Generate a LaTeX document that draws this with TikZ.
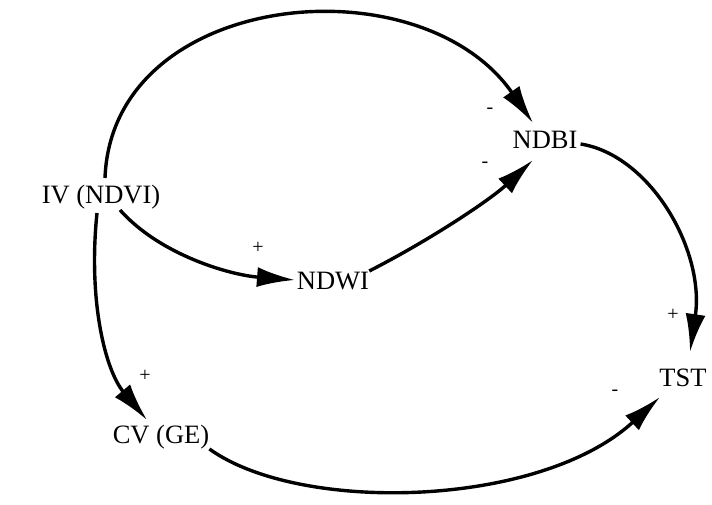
\documentclass[tikz,border=0pt]{standalone}
\usepackage{fontspec}
\setmainfont{Liberation Serif}
\usetikzlibrary{arrows.meta}
\begin{document}
\begin{tikzpicture}[x=1pt,y=1pt,
  var/.style={inner sep=0pt,font=\fontsize{26.5}{30}\selectfont},
  sgn/.style={inner sep=0pt,font=\fontsize{20}{22}\selectfont},
  link/.style={line width=3.4pt,-{Latex[length=38pt,width=20pt]}}]
\useasboundingbox[fill=white] (0,0) rectangle (712,504);
\node[var] (iv) at (101,307) {IV (NDVI)};
\node[var] (ndbi) at (545,364) {NDBI};
\node[var] (ndwi) at (333,223) {NDWI};
\node[var] (tst) at (683,126) {TST};
\node[var] (cv) at (161,67) {CV (GE)};
\node[sgn] (s1) at (490,393) {-};
\node[sgn] (s2) at (485,339) {-};
\node[sgn] (s3) at (258,256) {+};
\node[sgn] (s4) at (673,189) {+};
\node[sgn] (s5) at (145,128) {+};
\node[sgn] (s6) at (615,111) {-};
\coordinate (e1) at (533,381);
\coordinate (e2) at (295,224);
\coordinate (e3) at (533,344);
\coordinate (e4) at (690,152);
\coordinate (e5) at (147,84);
\coordinate (e6) at (660,107);
\draw[link] ([xshift=4pt,yshift=19pt]iv.center) .. controls (112,514) and (420,544) .. (e1);
\draw[link] ([xshift=19pt,yshift=-13pt]iv.center) .. controls (160,249) and (230,229) .. (e2);
\draw[link] ([yshift=10pt]ndwi.east) .. controls (430,264) and (490,304) .. (e3);
\draw[link] ([xshift=3pt,yshift=-4pt]ndbi.east) .. controls (650,349) and (705,254) .. (e4);
\draw[link] ([xshift=-4pt,yshift=-16pt]iv.center) .. controls (88,204) and (105,134) .. (e5);
\draw[link] ([yshift=-12pt]cv.east) .. controls (300,-10) and (540,-4) .. (e6);
\end{tikzpicture}
\end{document}
